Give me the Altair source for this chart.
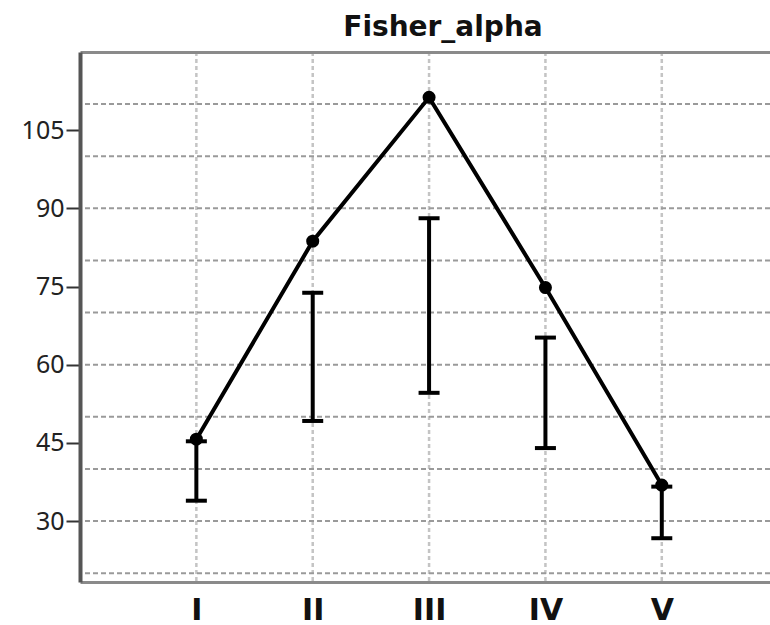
import altair as alt
import pandas as pd

# Fisher's alpha per group, with confidence interval bounds
categories = ["I", "II", "III", "IV", "V"]
fisher_alpha = [45.7, 83.7, 111.3, 74.8, 36.9]
ci_low = [33.9, 49.2, 54.6, 44.0, 26.7]
ci_high = [45.3, 73.8, 88.1, 65.2, 36.6]

y_ticks = [30, 45, 60, 75, 90, 105]
y_grid = [20, 30, 40, 50, 60, 70, 80, 90, 100, 110]

df = pd.DataFrame({
    "cat": categories,
    "pos": list(range(1, len(categories) + 1)),
    "alpha": fisher_alpha,
    "lo": ci_low,
    "hi": ci_high,
})
grid_df = pd.DataFrame({"g": y_grid})

x_scale = alt.Scale(domain=[0, 5.93], nice=False, zero=False)
y_scale = alt.Scale(domain=[18.3, 120], nice=False, zero=False)

label_expr = "[" + ",".join(["''"] + [f"'{c}'" for c in categories]) + "][datum.value]"

bottom_axis = alt.Axis(
    values=list(range(1, len(categories) + 1)), labelExpr=label_expr,
    grid=False, ticks=False, domain=True, domainColor="#8a8a8a", domainWidth=3,
    labelFont="DejaVu Sans", labelFontWeight="bold", labelFontSize=30,
    labelColor="#111111", labelPadding=13, title=None, zindex=1,
)
top_axis = alt.Axis(
    orient="top", labels=False, ticks=False, grid=False, domain=True,
    domainColor="#8a8a8a", domainWidth=3, title=None, zindex=1,
)
left_axis = alt.Axis(
    values=y_ticks, grid=False, tickSize=14, tickWidth=2, tickColor="#333333",
    domainColor="#555555", domainWidth=4, labelFont="Noto Sans",
    labelFontSize=25, labelColor="#222222", labelPadding=2, title=None, zindex=1,
)

vgrid = alt.Chart(df).mark_rule(color="#c4c4c4", strokeWidth=2.5, strokeDash=[4, 3]).encode(
    x=alt.X("pos:Q", scale=x_scale, axis=top_axis)
)
hgrid = alt.Chart(grid_df).mark_rule(color="#9a9a9a", strokeWidth=2, strokeDash=[5, 3]).encode(
    y=alt.Y("g:Q", scale=y_scale, axis=left_axis)
)
stems = alt.Chart(df).mark_rule(color="black", strokeWidth=4).encode(
    x=alt.X("pos:Q", scale=x_scale, axis=bottom_axis),
    y=alt.Y("lo:Q", scale=y_scale, axis=None),
    y2="hi:Q",
)
caps_lo = alt.Chart(df).mark_tick(orient="horizontal", size=21, thickness=4, color="black", opacity=1).encode(
    x=alt.X("pos:Q", scale=x_scale, axis=None),
    y=alt.Y("lo:Q", scale=y_scale, axis=None),
)
caps_hi = alt.Chart(df).mark_tick(orient="horizontal", size=21, thickness=4, color="black", opacity=1).encode(
    x=alt.X("pos:Q", scale=x_scale, axis=None),
    y=alt.Y("hi:Q", scale=y_scale, axis=None),
)
line = alt.Chart(df).mark_line(color="black", strokeWidth=4).encode(
    x=alt.X("pos:Q", scale=x_scale, axis=None),
    y=alt.Y("alpha:Q", scale=y_scale, axis=None),
)
points = alt.Chart(df).mark_circle(size=170, color="black", opacity=1).encode(
    x=alt.X("pos:Q", scale=x_scale, axis=None),
    y=alt.Y("alpha:Q", scale=y_scale, axis=None),
)

chart = (
    alt.layer(vgrid, hgrid, stems, caps_lo, caps_hi, line, points)
    .resolve_axis(x="independent", y="independent")
    .properties(
        width=690,
        height=530,
        autosize=alt.AutoSizeParams(type="none"),
        padding={"left": 80, "top": 52, "right": 0, "bottom": 43},
        background="white",
        title=alt.Title(
            "Fisher_alpha", font="DejaVu Sans", fontSize=28, fontWeight="bold",
            color="#111111", anchor="middle", frame="group", offset=-13,
            baseline="alphabetic", dx=18,
        ),
    )
    .configure_view(stroke=None)
)

chart.save("out.html", embed_options={"renderer": "svg", "actions": False})
